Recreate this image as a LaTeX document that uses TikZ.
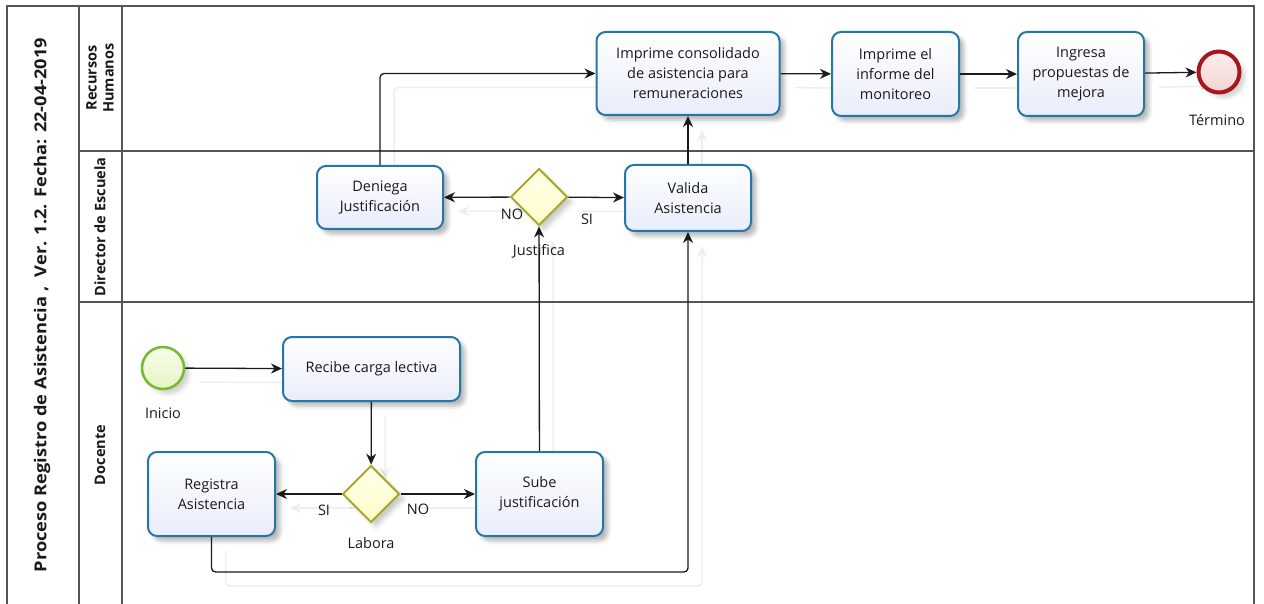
\documentclass[tikz,border=0pt]{standalone}
\usepackage{fontspec}
\setmainfont{Open Sans}
\usetikzlibrary{shapes.geometric,arrows.meta,shadows.blur}
\definecolor{laneline}{HTML}{555555}
\definecolor{taskedge}{HTML}{2478A8}
\definecolor{taskfill}{HTML}{E9EDFB}
\definecolor{gateedge}{HTML}{A9A92C}
\definecolor{gatefill}{HTML}{FFFDCB}
\definecolor{startedge}{HTML}{78B92E}
\definecolor{startfill}{HTML}{E6F6C2}
\definecolor{endedge}{HTML}{A5161D}
\definecolor{endfill}{HTML}{F5D3D3}
\definecolor{ink}{HTML}{1A1A1A}
\definecolor{ghost}{HTML}{EEEEEE}
\pgfdeclarelayer{ghostlayer}
\pgfsetlayers{ghostlayer,main}
% a sequence flow together with its faint offset shadow behind everything
\newcommand\flowline[1]{%
  \begin{pgfonlayer}{ghostlayer}\draw[ghostflow] #1;\end{pgfonlayer}%
  \draw[flow] #1;}

\begin{document}
\begin{tikzpicture}[x=1pt,y=-1pt,
  txt/.style={font=\fontsize{14.5}{20}\selectfont, text=ink, inner sep=0pt},
  head/.style={font=\fontsize{14.5}{17}\selectfont\bfseries, text=ink, rotate=90, align=center, inner sep=0pt},
  softshadow/.style={blur shadow={shadow xshift=5pt, shadow yshift=-5pt, shadow blur radius=4pt, shadow opacity=#1}},
  task/.style={txt, draw=taskedge, line width=2pt, rounded corners=9pt,
    top color=white, bottom color=taskfill, align=center, softshadow=28},
  gate/.style={diamond, aspect=1, minimum width=57pt, minimum height=57pt, inner sep=0pt,
    draw=gateedge, line width=2pt, top color=white!60!gatefill, bottom color=gatefill,
    softshadow=20},
  startev/.style={circle, minimum size=42pt, inner sep=0pt, draw=startedge, line width=2.5pt,
    top color=white!70!startfill, bottom color=startfill, softshadow=18},
  endev/.style={circle, minimum size=41pt, inner sep=0pt, draw=endedge, line width=4pt,
    top color=white!60!endfill, bottom color=endfill, softshadow=18},
  flow/.style={draw=ink, line width=1.3pt, rounded corners=4pt,
    -{Stealth[length=11pt,width=10pt,inset=3.5pt]}},
  ghostflow/.style={draw=ghost, line width=1.5pt, rounded corners=4pt,
    -{Stealth[length=11pt,width=10pt,inset=3.5pt]}, transform canvas={shift={(14,14)}}},
  pool/.style={draw=laneline, line width=1.3pt}
]
\useasboundingbox (0,0) rectangle (1264,604);

% pool frame and lanes
\draw[pool] (7,612) -- (7,6) -- (1254,6) -- (1254,612);
\draw[pool] (79,6) -- (79,612);
\draw[pool] (122,6) -- (122,612);
\draw[pool] (79,151) -- (1254,151);
\draw[pool] (79,302) -- (1254,302);

\node[head] (title) at (42,305) {\resizebox{534pt}{12.5pt}{Proceso Registro de Asistencia ,\ \ Ver. 1.2. Fecha: 22-04-2019}};
\node[head] (laneRH) at (100,78) {Recursos\\Humanos};
\node[head] (laneDE) at (100,227) {Director de Escuela};
\node[head] (laneDO) at (100,455) {Docente};

% activities
\node[task, minimum width=183pt, minimum height=83pt] (cons) at (688,73.5) {Imprime consolidado\\de asistencia para\\remuneraciones};
\node[task, minimum width=127pt, minimum height=84pt] (inf) at (895.5,74) {Imprime el\\informe del\\monitoreo};
\node[task, minimum width=126pt, minimum height=84pt] (ingr) at (1081,74) {Ingresa\\propuestas de\\mejora};
\node[task, minimum width=126pt, minimum height=63pt] (den) at (380,197.5) {Deniega\\Justificación};
\node[task, minimum width=126pt, minimum height=66pt] (val) at (688,198) {Valida\\Asistencia};
\node[task, minimum width=177pt, minimum height=64pt] (rec) at (371.5,369) {Recibe carga lectiva};
\node[task, minimum width=127pt, minimum height=84pt] (reg) at (211.5,494) {Registra\\Asistencia};
\node[task, minimum width=127pt, minimum height=84pt] (sube) at (539.5,494) {Sube\\justificación};

% gateways and events
\node[gate] (lab) at (371,494) {};
\node[gate] (just) at (539,197) {};
\node[startev] (ini) at (163,368) {};
\node[endev] (fin) at (1219,72) {};

% element captions
\node[txt] (tIni) at (163,413) {Inicio};
\node[txt] (tFin) at (1217,120) {Término};
\node[txt] (tLab) at (371,543) {Labora};
\node[txt] (tJust) at (539,251) {Justifica};
\node[txt] (labSI) at (324,510) {SI};
\node[txt] (labNO) at (418,509) {NO};
\node[txt] (justNO) at (512,214) {NO};
\node[txt] (justSI) at (587,219) {SI};

% sequence flows
\flowline{(ini) -- (rec)}
\flowline{(rec) -- (lab)}
\flowline{(lab) -- (reg)}
\flowline{(lab) -- (sube)}
\flowline{(sube) -- (just)}
\flowline{(reg.south) -- (reg.south |- 0,572) -- (val.south |- 0,572) -- (val.south)}
\flowline{(just) -- (den)}
\flowline{(just) -- (val)}
\flowline{(den.north) |- (cons.west)}
\flowline{(val) -- (cons)}
\flowline{(cons) -- (inf)}
\flowline{(inf) -- (ingr)}
\flowline{(ingr) -- (fin)}
\end{tikzpicture}
\end{document}
